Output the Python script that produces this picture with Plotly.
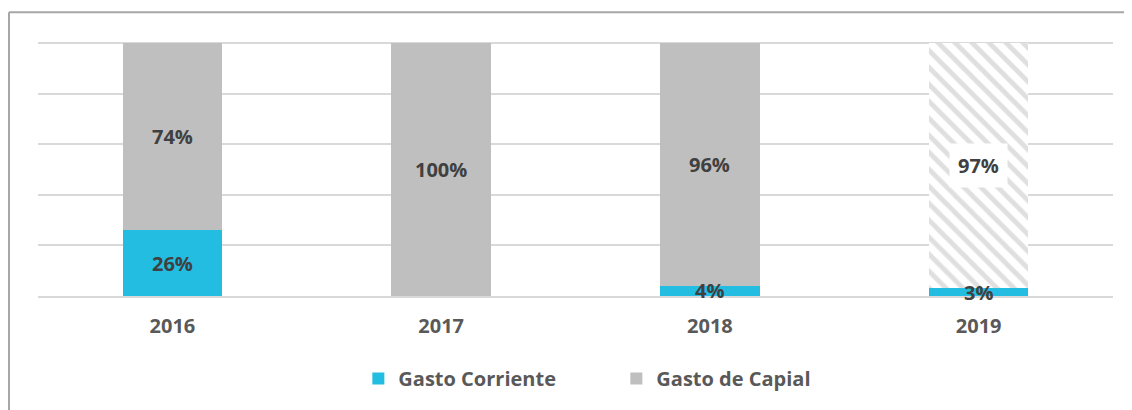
import plotly.graph_objects as go

years = ["2016", "2017", "2018", "2019"]
gasto_corriente = [26, 0, 4, 3]
gasto_capital = [74, 100, 96, 97]
series_names = ["Gasto Corriente", "Gasto de Capial"]
projected = [False, False, False, True]  # 2019 drawn hatched

CYAN = "#23BDE2"
GRAY = "#BFBFBF"
LABEL = "#404040"
TICK = "#595959"
FONT = "Open Sans"

solid_x = [y for y, p in zip(years, projected) if not p]
solid_y = [v for v, p in zip(gasto_capital, projected) if not p]
hatch_x = [y for y, p in zip(years, projected) if p]
hatch_y = [v for v, p in zip(gasto_capital, projected) if p]

fig = go.Figure()
fig.add_trace(go.Bar(
    x=years, y=gasto_corriente, name=series_names[0],
    marker=dict(color=CYAN, line=dict(width=0)),
))
fig.add_trace(go.Bar(
    x=solid_x, y=solid_y, name=series_names[1], legendgroup="cap",
    marker=dict(color=GRAY, line=dict(width=0)),
))
fig.add_trace(go.Bar(
    x=hatch_x, y=hatch_y, name=series_names[1], legendgroup="cap", showlegend=False,
    marker=dict(color="white", line=dict(width=0),
                pattern=dict(shape="\\", fgcolor=GRAY, bgcolor="white",
                             size=12, solidity=0.4)),
))

annotations = []
for i, yr in enumerate(years):
    c = gasto_corriente[i]
    k = gasto_capital[i]
    if c > 0:
        annotations.append(dict(x=i, y=c / 2, text=f"<b>{c}%</b>", showarrow=False,
                                font=dict(family=FONT, size=20, color=LABEL)))
    if k > 0:
        a = dict(x=i, y=c + k / 2, text=f"<b>{k}%</b>", showarrow=False,
                 font=dict(family=FONT, size=20, color=LABEL))
        if projected[i]:
            a.update(bgcolor="white", borderpad=8)
        annotations.append(a)

fig.update_layout(
    barmode="stack",
    bargap=0.63,
    width=1124, height=402,
    margin=dict(l=30, r=19, t=34, b=105),
    paper_bgcolor="white", plot_bgcolor="white",
    font=dict(family=FONT, color=TICK),
    showlegend=True,
    legend=dict(orientation="h", x=0.538, xanchor="center", y=-0.325, yanchor="middle",
                font=dict(family=FONT, size=20, color=TICK, weight="bold"),
                entrywidth=213, traceorder="normal"),
    annotations=annotations,
    shapes=[
        dict(type="line", xref="paper", yref="paper", x0=-0.027, x1=-0.027, y0=1.1176, y1=-0.5,
             line=dict(color="#A6A6A6", width=2)),
        dict(type="line", xref="paper", yref="paper", x0=-0.027, x1=1.03, y0=1.1176, y1=1.1176,
             line=dict(color="#A6A6A6", width=2)),
    ],
)
fig.update_xaxes(type="category",
                 showgrid=False, showline=True, linecolor="#D9D9D9", linewidth=2,
                 tickfont=dict(family=FONT, size=20, color=TICK, weight="bold"),
                 ticks="outside", ticklen=11, tickcolor="rgba(0,0,0,0)")
fig.update_yaxes(range=[0, 100.4], dtick=20, showgrid=True, gridcolor="#D9D9D9", gridwidth=2,
                 showticklabels=False, zeroline=False)

fig.write_html("out.html")
